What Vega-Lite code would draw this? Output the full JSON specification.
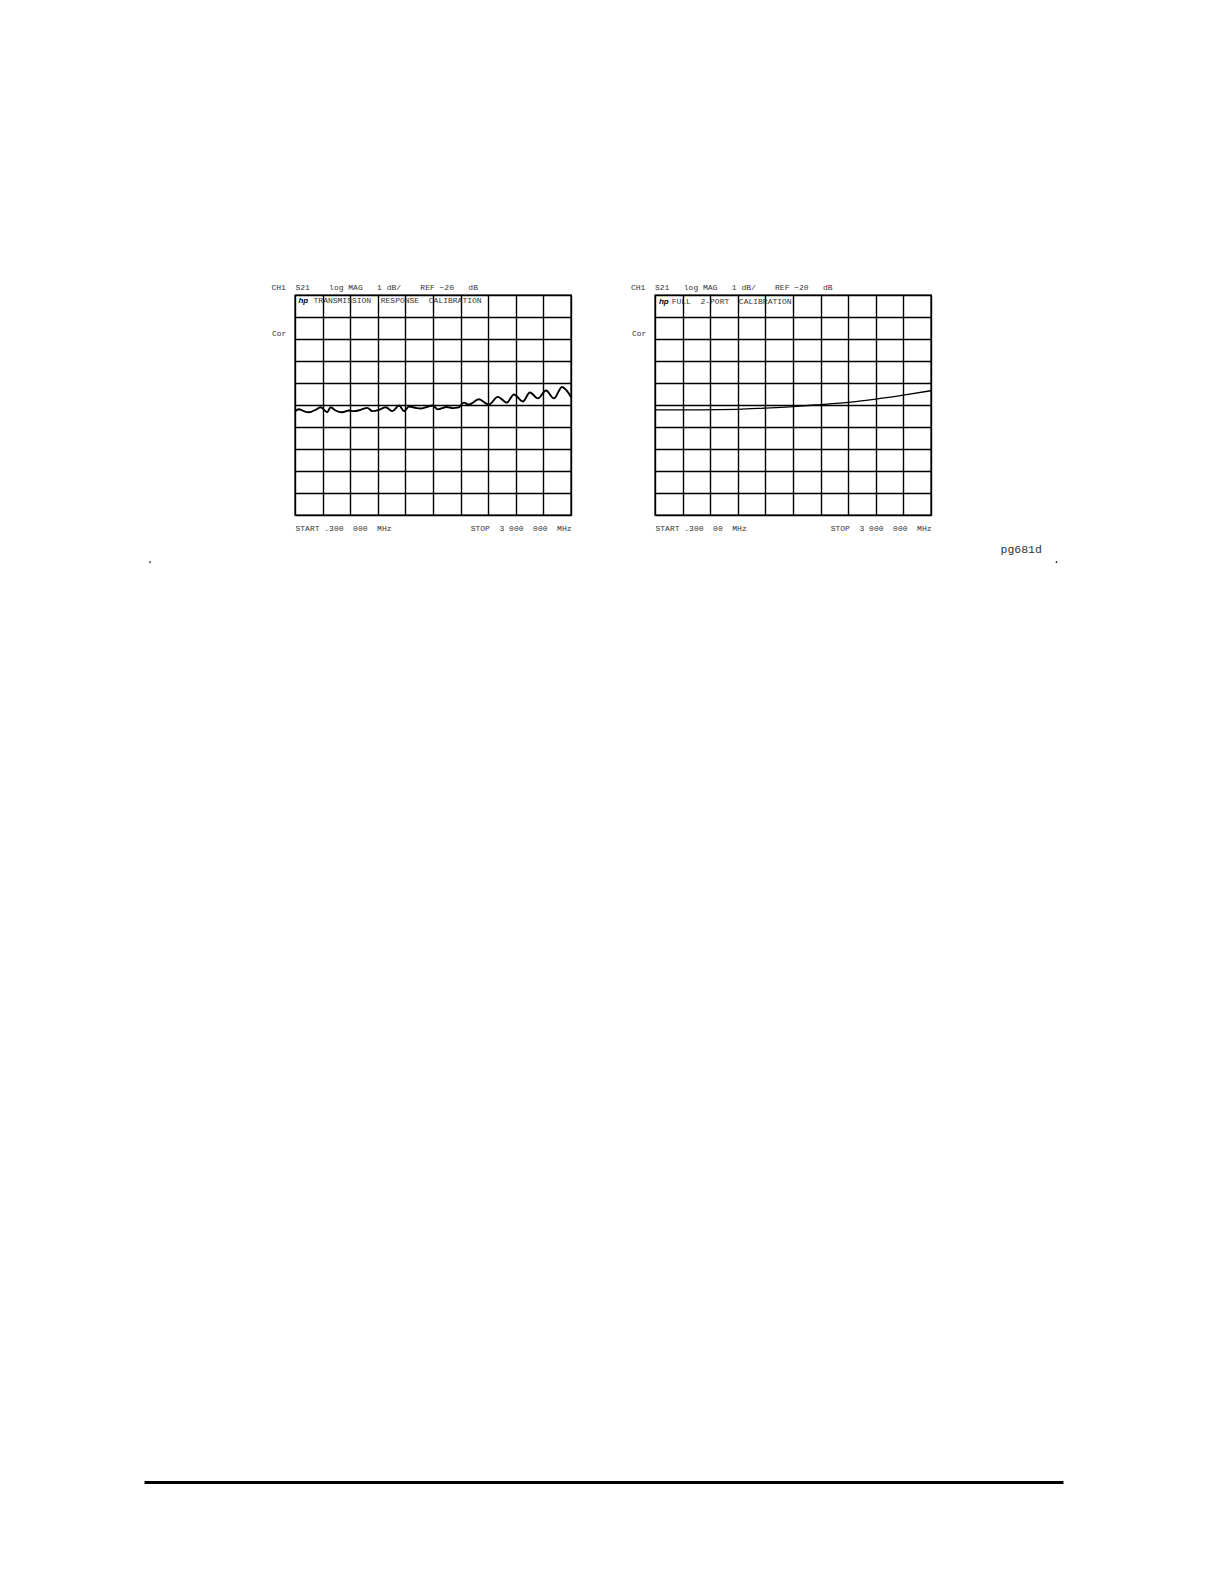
{
  "$schema": "https://vega.github.io/schema/vega-lite/v6.json",
  "background": "white",
  "padding": {"left": 149, "top": 283, "right": 5, "bottom": 5},
  "datasets": {
    "trans": [
      {"f": 0.3, "db": -20.28}, {"f": 42, "db": -20.19}, {"f": 96, "db": -20.28}, {"f": 151, "db": -20.33},
      {"f": 224, "db": -20.22}, {"f": 278, "db": -20.10}, {"f": 351, "db": -20.33}, {"f": 387, "db": -20.10},
      {"f": 441, "db": -20.25}, {"f": 514, "db": -20.33}, {"f": 586, "db": -20.25}, {"f": 640, "db": -20.28},
      {"f": 713, "db": -20.22}, {"f": 786, "db": -20.13}, {"f": 841, "db": -20.28}, {"f": 913, "db": -20.22},
      {"f": 986, "db": -20.10}, {"f": 1059, "db": -20.28}, {"f": 1131, "db": -20.02}, {"f": 1185, "db": -20.28},
      {"f": 1239, "db": -20.07}, {"f": 1312, "db": -20.13}, {"f": 1367, "db": -20.16}, {"f": 1432, "db": -20.09},
      {"f": 1497, "db": -20.02}, {"f": 1552, "db": -20.20}, {"f": 1650, "db": -20.09}, {"f": 1715, "db": -20.14},
      {"f": 1780, "db": -20.11}, {"f": 1835, "db": -19.89}, {"f": 1889, "db": -19.98}, {"f": 1998, "db": -19.74},
      {"f": 2107, "db": -19.98}, {"f": 2205, "db": -19.63}, {"f": 2303, "db": -19.89}, {"f": 2379, "db": -19.52},
      {"f": 2477, "db": -19.84}, {"f": 2553, "db": -19.43}, {"f": 2640, "db": -19.70}, {"f": 2728, "db": -19.34},
      {"f": 2815, "db": -19.70}, {"f": 2902, "db": -19.18}, {"f": 2956, "db": -19.36}, {"f": 3000, "db": -19.64}
    ],
    "full": [
      {"f": 0.3, "db": -20.22}, {"f": 500, "db": -20.22}, {"f": 900, "db": -20.20}, {"f": 1200, "db": -20.14},
      {"f": 1575, "db": -20.05}, {"f": 1740, "db": -20.0}, {"f": 2130, "db": -19.87}, {"f": 2400, "db": -19.73},
      {"f": 2700, "db": -19.55}, {"f": 3000, "db": -19.35}
    ]
  },
  "vconcat": [
    {
      "hconcat": [
        {
          "width": 276,
          "height": 220,
          "title": {
            "text": "CH1\u00a0\u00a0S21\u00a0\u00a0\u00a0\u00a0log\u00a0MAG\u00a0\u00a0\u00a01\u00a0dB/\u00a0\u00a0\u00a0\u00a0REF\u00a0\u221220\u00a0\u00a0\u00a0dB",
            "anchor": "start", "frame": "group", "dx": -23.5, "offset": 3,
            "font": "Liberation Mono", "fontSize": 8, "fontWeight": "normal", "color": "#333"
          },
          "layer": [
            {
              "data": {"name": "trans"},
              "mark": {"type": "line", "interpolate": "monotone", "color": "#000", "strokeWidth": 1.9},
              "encoding": {
                "x": {
                  "field": "f", "type": "quantitative",
                  "scale": {"domain": [0.3, 3000], "nice": false, "zero": false},
                  "axis": {
                    "orient": "bottom", "title": null, "tickCount": 20,
                    "values": [0.3, 300.27, 600.24, 900.21, 1200.18, 1500.15, 1800.12, 2100.09, 2400.06, 2700.03, 3000],
                    "labelExpr": "datum.value < 1 ? 'START\u00a0.300\u00a0\u00a0000\u00a0\u00a0MHz' : (datum.value > 2999 ? 'STOP\u00a0\u00a03\u00a0000\u00a0\u00a0000\u00a0\u00a0MHz' : '')",
                    "labelFlush": true, "labelOverlap": false, "labelPadding": 9.5
                  }
                },
                "y": {
                  "field": "db", "type": "quantitative",
                  "scale": {"domain": [-25, -15], "nice": false, "zero": false},
                  "axis": {
                    "values": [-25, -24, -23, -22, -21, -20, -19, -18, -17, -16, -15], "tickCount": 20,
                    "labels": false, "title": "Cor", "titleAngle": 0, "titleAlign": "left",
                    "titleBaseline": "alphabetic", "titleX": -23.5, "titleY": 40
                  }
                }
              }
            },
            {
              "data": {"values": [{"label": "hp"}]},
              "mark": {"type": "text", "align": "left", "baseline": "alphabetic", "font": "Liberation Sans", "fontStyle": "italic", "fontWeight": "bold", "fontSize": 8, "color": "#000"},
              "encoding": {"x": {"datum": 38}, "y": {"datum": -15.38}, "text": {"field": "label"}}
            },
            {
              "data": {"values": [{"label": "TRANSMISSION\u00a0\u00a0RESPONSE\u00a0\u00a0CALIBRATION"}]},
              "mark": {"type": "text", "align": "left", "baseline": "alphabetic", "font": "Liberation Mono", "fontSize": 8, "color": "#333"},
              "encoding": {"x": {"datum": 202}, "y": {"datum": -15.38}, "text": {"field": "label"}}
            }
          ]
        },
        {
          "width": 276,
          "height": 220,
          "title": {
            "text": "CH1\u00a0\u00a0S21\u00a0\u00a0\u00a0log\u00a0MAG\u00a0\u00a0\u00a01\u00a0dB/\u00a0\u00a0\u00a0\u00a0REF\u00a0\u221220\u00a0\u00a0\u00a0dB",
            "anchor": "start", "frame": "group", "dx": -24, "offset": 3,
            "font": "Liberation Mono", "fontSize": 8, "fontWeight": "normal", "color": "#333"
          },
          "layer": [
            {
              "data": {"name": "full"},
              "mark": {"type": "line", "interpolate": "monotone", "color": "#000", "strokeWidth": 1.3},
              "encoding": {
                "x": {
                  "field": "f", "type": "quantitative",
                  "scale": {"domain": [0.3, 3000], "nice": false, "zero": false},
                  "axis": {
                    "orient": "bottom", "title": null, "tickCount": 20,
                    "values": [0.3, 300.27, 600.24, 900.21, 1200.18, 1500.15, 1800.12, 2100.09, 2400.06, 2700.03, 3000],
                    "labelExpr": "datum.value < 1 ? 'START\u00a0.300\u00a0\u00a000\u00a0\u00a0MHz' : (datum.value > 2999 ? 'STOP\u00a0\u00a03\u00a0000\u00a0\u00a0000\u00a0\u00a0MHz' : '')",
                    "labelFlush": true, "labelOverlap": false, "labelPadding": 9.5
                  }
                },
                "y": {
                  "field": "db", "type": "quantitative",
                  "scale": {"domain": [-25, -15], "nice": false, "zero": false},
                  "axis": {
                    "values": [-25, -24, -23, -22, -21, -20, -19, -18, -17, -16, -15], "tickCount": 20,
                    "labels": false, "title": "Cor", "titleAngle": 0, "titleAlign": "left",
                    "titleBaseline": "alphabetic", "titleX": -23.5, "titleY": 40
                  }
                }
              }
            },
            {
              "data": {"values": [{"label": "hp"}]},
              "mark": {"type": "text", "align": "left", "baseline": "alphabetic", "font": "Liberation Sans", "fontStyle": "italic", "fontWeight": "bold", "fontSize": 8, "color": "#000"},
              "encoding": {"x": {"datum": 43}, "y": {"datum": -15.4}, "text": {"field": "label"}}
            },
            {
              "data": {"values": [{"label": "FULL\u00a0\u00a02-PORT\u00a0\u00a0CALIBRATION"}]},
              "mark": {"type": "text", "align": "left", "baseline": "alphabetic", "font": "Liberation Mono", "fontSize": 8, "color": "#333"},
              "encoding": {"x": {"datum": 181}, "y": {"datum": -15.4}, "text": {"field": "label"}}
            }
          ]
        }
      ],
      "spacing": 84,
      "bounds": "flush"
    },
    {
      "width": 768,
      "height": 942,
      "view": {"stroke": null},
      "layer": [
        {
          "data": {"values": [{"label": "pg681d"}]},
          "mark": {"type": "text", "align": "left", "baseline": "alphabetic", "font": "Liberation Mono", "fontSize": 11.5, "color": "#333"},
          "encoding": {
            "x": {"datum": 0.932, "type": "quantitative", "scale": {"domain": [0, 1], "range": [-151, 768]},
                  "axis": {"orient": "bottom", "domain": true, "domainColor": "#000", "domainWidth": 3, "labels": false, "ticks": false, "grid": false, "title": null}},
            "y": {"datum": 0.9862, "type": "quantitative", "scale": {"domain": [0, 1]}, "axis": null},
            "text": {"field": "label"}
          }
        },
        {
          "data": {"values": [{"label": "dot"}]},
          "mark": {"type": "circle", "size": 3, "color": "#000", "opacity": 1},
          "encoding": {"x": {"datum": 0.0065}, "y": {"datum": 0.9766}}
        },
        {
          "data": {"values": [{"label": "dot"}]},
          "mark": {"type": "circle", "size": 3, "color": "#000", "opacity": 1},
          "encoding": {"x": {"datum": 0.9929}, "y": {"datum": 0.9766}}
        }
      ]
    }
  ],
  "spacing": 6,
  "config": {
    "view": {"stroke": "#000", "strokeWidth": 1.4},
    "axis": {
      "domain": false, "ticks": false, "tickSize": 0, "grid": true,
      "gridColor": "#000", "gridOpacity": 1, "gridWidth": 1.4,
      "labelFont": "Liberation Mono", "labelFontSize": 8, "labelColor": "#333",
      "titleFont": "Liberation Mono", "titleFontSize": 8, "titleFontWeight": "normal", "titleColor": "#333"
    }
  }
}
